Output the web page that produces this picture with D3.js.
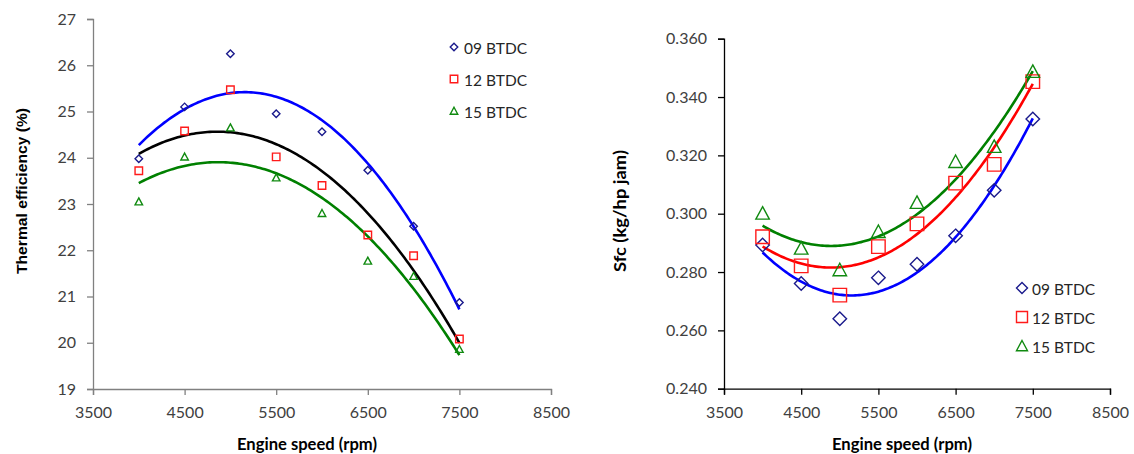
<!DOCTYPE html>
<html>
<head>
<meta charset="utf-8">
<script src="https://cdn.jsdelivr.net/npm/d3@7"></script>
<style>
  body { margin: 0; background: #fff; }
  svg text { font-family: Lato, "Open Sans", sans-serif; }
</style>
</head>
<body>
<svg id="chart" width="1134" height="454"></svg>
<script>
// engine speed (rpm)
const speeds = [4000, 4500, 5000, 5500, 6000, 6500, 7000, 7500];
const seriesNames = ["09 BTDC", "12 BTDC", "15 BTDC"];

// thermal efficiency (%)
const eff09 = [23.98, 25.10, 26.25, 24.95, 24.56, 23.73, 22.52, 20.87];
const eff12 = [23.72, 24.58, 25.47, 24.02, 23.40, 22.33, 21.88, 20.08];
const eff15 = [23.05, 24.02, 24.65, 23.57, 22.80, 21.77, 21.44, 19.86];

// sfc (kg/hp jam)
const sfc09 = [0.2893, 0.2761, 0.2640, 0.2780, 0.2827, 0.2924, 0.3080, 0.3325];
const sfc12 = [0.2921, 0.2821, 0.2721, 0.2887, 0.2965, 0.3105, 0.3169, 0.3453];
const sfc15 = [0.3001, 0.2881, 0.2807, 0.2938, 0.3038, 0.3178, 0.3230, 0.3487];

const xTicks = [3500, 4500, 5500, 6500, 7500, 8500];
const effTicks = [19, 20, 21, 22, 23, 24, 25, 26, 27];
const sfcTicks = [0.24, 0.26, 0.28, 0.30, 0.32, 0.34, 0.36];

const svg = d3.select("#chart");

// least squares quadratic trendline (like excel's poly order 2)
function polyfit2(xs, ys) {
    const m = d3.mean(xs);
    const t = xs.map(x => (x - m) / 1000);
    let s = [0, 0, 0, 0, 0], r = [0, 0, 0];
    t.forEach((v, i) => {
        for (let k = 0; k < 5; k++) s[k] += Math.pow(v, k);
        for (let k = 0; k < 3; k++) r[k] += Math.pow(v, k) * ys[i];
    });
    const A = [[s[0], s[1], s[2], r[0]], [s[1], s[2], s[3], r[1]], [s[2], s[3], s[4], r[2]]];
    for (let i = 0; i < 3; i++) {
        for (let j = i + 1; j < 3; j++) {
            const f = A[j][i] / A[i][i];
            for (let k = i; k < 4; k++) A[j][k] -= f * A[i][k];
        }
    }
    const c = [0, 0, 0];
    for (let i = 2; i >= 0; i--) {
        let v = A[i][3];
        for (let k = i + 1; k < 3; k++) v -= A[i][k] * c[k];
        c[i] = v / A[i][i];
    }
    return x => { const u = (x - m) / 1000; return c[0] + c[1] * u + c[2] * u * u; };
}

function markerPath(type, size) {
    const h = size / 2;
    if (type === "diamond") return `M0,${-h}L${h},0L0,${h}L${-h},0Z`;
    if (type === "square") return `M${-h},${-h}H${h}V${h}H${-h}Z`;
    return `M0,${-h}L${h},${h * 0.85}H${-h}Z`;
}

function drawPanel(opt) {
    const x = d3.scaleLinear().domain([3500, 8500]).range(opt.xRange);
    const y = d3.scaleLinear().domain(opt.yDomain).range(opt.yRange);
    const g = svg.append("g");

    const xAxis = g.append("g")
        .attr("transform", `translate(0,${opt.yRange[0]})`)
        .call(d3.axisBottom(x).tickValues(xTicks).tickSize(6).tickPadding(12).tickFormat(d3.format("d")));
    const yAxis = g.append("g")
        .attr("transform", `translate(${opt.xRange[0]},0)`)
        .call(d3.axisLeft(y).tickValues(opt.yTicks).tickSize(6).tickPadding(11).tickFormat(opt.yFormat));
    [xAxis, yAxis].forEach(a => {
        a.select(".domain").attr("stroke", opt.axisColor).attr("stroke-width", 1.3);
        a.selectAll(".tick line").attr("stroke", opt.axisColor).attr("stroke-width", 1.3);
        a.selectAll(".tick text").attr("fill", "#404040").style("font-size", "16px");
    });

    const line = d3.line().x(d => x(d[0])).y(d => y(d[1]));
    const xs = d3.range(4000, 7501, 25);
    opt.series.forEach(s => {
        const f = polyfit2(speeds, s.values);
        g.append("path")
            .attr("d", line(xs.map(v => [v, f(v)])))
            .attr("fill", "none")
            .attr("stroke", s.lineColor)
            .attr("stroke-width", 2.6);
    });
    opt.series.forEach(s => {
        g.selectAll(null).data(s.values).enter().append("path")
            .attr("transform", (d, i) => `translate(${x(speeds[i])},${y(d)})`)
            .attr("d", markerPath(s.marker, opt.markerSize))
            .attr("fill", "none")
            .attr("stroke", s.markerColor)
            .attr("stroke-width", 1.4);
    });

    // legend
    const lg = g.append("g");
    opt.series.forEach((s, i) => {
        const ly = opt.legend[1] + i * opt.legendGap;
        lg.append("path")
            .attr("transform", `translate(${opt.legend[0]},${ly})`)
            .attr("d", markerPath(s.marker, opt.legendSize))
            .attr("fill", "none")
            .attr("stroke", s.markerColor)
            .attr("stroke-width", 1.4);
        lg.append("text")
            .attr("x", opt.legend[0] + 10)
            .attr("y", ly + 6.5)
            .attr("fill", "#262626")
            .style("font-size", "15.5px")
            .text(seriesNames[i]);
    });

    // axis titles
    g.append("text")
        .attr("x", (opt.xRange[0] + opt.xRange[1]) / 2 - 15)
        .attr("y", 450)
        .attr("text-anchor", "middle")
        .attr("textLength", 140).attr("lengthAdjust", "spacingAndGlyphs")
        .style("font-size", "17px").style("font-weight", "bold")
        .text("Engine speed (rpm)");
    g.append("text")
        .attr("transform", `translate(${opt.yTitle[0]},${opt.yTitle[1]}) rotate(-90)`)
        .attr("text-anchor", "middle")
        .attr("textLength", opt.yTitleLen).attr("lengthAdjust", "spacingAndGlyphs")
        .style("font-family", opt.yTitleFont)
        .style("font-size", opt.yTitleSize).style("font-weight", "bold")
        .text(opt.yLabel);
}

const navy = "#1a1a8c", red = "#ff1a1a", green = "#108a10";

drawPanel({
    xRange: [93, 551], yRange: [389, 19], yDomain: [19, 27], yTicks: effTicks,
    yFormat: d3.format("d"), axisColor: "#808080", markerSize: 7.5, legendSize: 7.5,
    legend: [454, 47], legendGap: 32,
    yTitle: [27, 191], yTitleLen: 166, yTitleSize: "15px",
    yTitleFont: "'Liberation Sans', Arial, sans-serif", yLabel: "Thermal efficiency (%)",
    series: [
        { values: eff09, marker: "diamond", markerColor: navy, lineColor: "#0000ff" },
        { values: eff12, marker: "square", markerColor: red, lineColor: "#000000" },
        { values: eff15, marker: "triangle", markerColor: green, lineColor: "#008000" }
    ]
});

drawPanel({
    xRange: [724, 1110], yRange: [388.7, 38.7], yDomain: [0.24, 0.36], yTicks: sfcTicks,
    yFormat: d3.format(".3f"), axisColor: "#000000", markerSize: 13.5, legendSize: 11,
    legend: [1022, 288], legendGap: 29,
    yTitle: [626, 211], yTitleLen: 122, yTitleSize: "17px",
    yTitleFont: "Lato, sans-serif", yLabel: "Sfc (kg/hp jam)",
    series: [
        { values: sfc09, marker: "diamond", markerColor: navy, lineColor: "#0000ff" },
        { values: sfc12, marker: "square", markerColor: red, lineColor: "#ff0000" },
        { values: sfc15, marker: "triangle", markerColor: green, lineColor: "#008000" }
    ]
});
</script>
</body>
</html>
